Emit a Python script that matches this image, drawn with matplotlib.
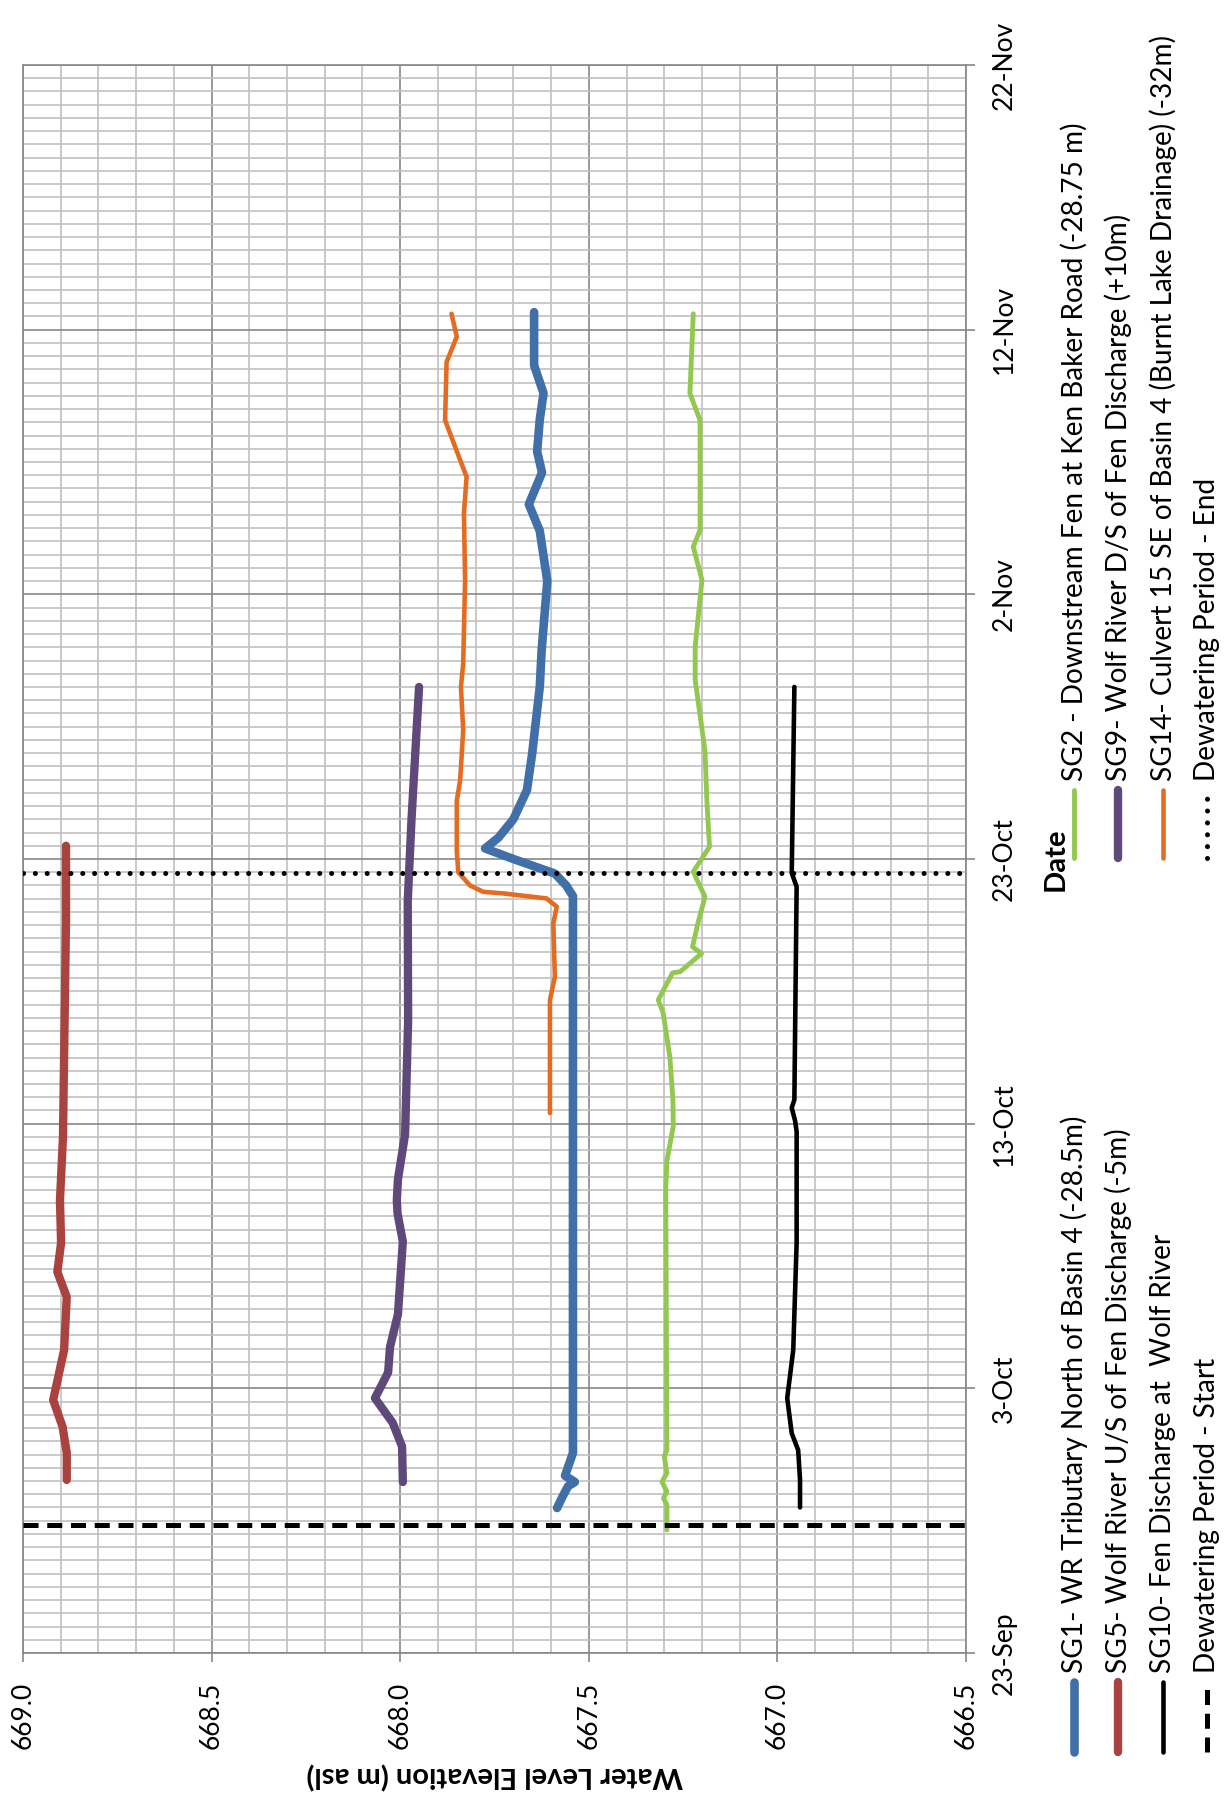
import numpy as np
import matplotlib
matplotlib.use('Agg')
import matplotlib.pyplot as plt
import matplotlib.dates as mdates
from matplotlib.lines import Line2D
from datetime import datetime

plt.rcParams['font.family'] = ['Lato', 'DejaVu Sans']

start = mdates.date2num(datetime(2013, 9, 23))

# days after 23-Sep and water level (m asl) for each staff gauge
sg1_day = [5.48, 5.9, 6.3, 6.46, 6.7, 7.56, 20.9, 28.6, 29.0, 29.45, 30.0, 30.4,
           30.8, 31.5, 32.6, 34.0, 36.5, 37.9, 40.5, 42.4, 43.4, 44.6, 45.4,
           46.6, 47.6, 48.65, 50.66]
sg1_lvl = [667.584, 667.570, 667.555, 667.537, 667.563, 667.542, 667.542, 667.542,
           667.560, 667.590, 667.700, 667.775, 667.740, 667.700, 667.664, 667.650,
           667.630, 667.625, 667.610, 667.630, 667.659, 667.624, 667.637, 667.630,
           667.620, 667.645, 667.645]

sg5_day = [6.54, 7.56, 8.54, 9.56, 11.45, 13.45, 14.4, 15.5, 17.1, 19.5, 27.7, 30.5]
sg5_lvl = [668.884, 668.884, 668.895, 668.920, 668.891, 668.884, 668.909, 668.899,
           668.902, 668.894, 668.886, 668.886]

sg10_day = [5.5, 6.54, 7.67, 8.3, 9.63, 11.45, 15.5, 19.7, 20.1, 20.6, 20.9, 28.95,
            29.47, 36.5]
sg10_lvl = [666.940, 666.940, 666.945, 666.962, 666.974, 666.958, 666.949, 666.949,
            666.953, 666.962, 666.955, 666.949, 666.962, 666.955]

sg2_day = [4.65, 5.6, 5.85, 6.1, 6.47, 6.8, 7.42, 7.67, 17.5, 18.6, 19.9, 20.9, 22.5,
           24.2, 24.67, 25.7, 25.74, 26.43, 26.68, 27.5, 28.57, 29.52, 30.46, 32.2,
           34.1, 36.76, 38.02, 40.54, 41.8, 42.43, 46.58, 47.59, 50.6]
sg2_lvl = [667.293, 667.293, 667.302, 667.293, 667.306, 667.293, 667.300, 667.293,
           667.296, 667.293, 667.276, 667.277, 667.285, 667.303, 667.316, 667.278,
           667.258, 667.201, 667.225, 667.212, 667.192, 667.223, 667.180, 667.187,
           667.192, 667.218, 667.218, 667.200, 667.223, 667.205, 667.205, 667.232,
           667.223]

sg9_day = [6.46, 7.8, 8.7, 9.63, 10.6, 11.56, 12.8, 15.55, 16.6, 17.1, 17.9, 19.6,
           23.9, 28.4, 31.5, 36.5]
sg9_lvl = [667.993, 667.995, 668.020, 668.067, 668.032, 668.027, 668.006, 667.993,
           668.007, 668.009, 668.006, 667.987, 667.979, 667.980, 667.970, 667.950]

sg14_day = [20.4, 24.67, 25.55, 27.57, 28.2, 28.51, 28.7, 28.76, 29.0, 29.5, 30.3,
            32.2, 32.98, 34.87, 36.5, 37.39, 40.54, 43.06, 44.44, 45.07, 46.58,
            48.78, 49.73, 50.6]
sg14_lvl = [667.603, 667.603, 667.590, 667.594, 667.585, 667.612, 667.727, 667.780,
            667.815, 667.846, 667.850, 667.850, 667.841, 667.833, 667.839, 667.833,
            667.828, 667.831, 667.824, 667.841, 667.881, 667.877, 667.850, 667.864]

dewater_start_day = 4.82
dewater_end_day = 29.47

elev_ticks = [669.0, 668.5, 668.0, 667.5, 667.0, 666.5]
date_ticks = [0, 10, 20, 30, 40, 50, 60]

series = [
    ('SG1- WR Tributary North of Basin 4 (-28.5m)', sg1_day, sg1_lvl, '#4170A8', 6.2),
    ('SG2 - Downstream Fen at Ken Baker Road (-28.75 m)', sg2_day, sg2_lvl, '#92C850', 3.5),
    ('SG5- Wolf River U/S of Fen Discharge (-5m)', sg5_day, sg5_lvl, '#A9433F', 6.0),
    ('SG9- Wolf River D/S of Fen Discharge (+10m)', sg9_day, sg9_lvl, '#5F497A', 6.0),
    ('SG10- Fen Discharge at  Wolf River', sg10_day, sg10_lvl, '#000000', 3.3),
    ('SG14- Culvert 15 SE of Basin 4 (Burnt Lake Drainage) (-32m)', sg14_day, sg14_lvl, '#E46C22', 3.3),
]

start_style = dict(color='black', lw=3.6, dashes=(3, 1.75))
end_style = dict(color='black', lw=3.6, dashes=(0.01, 2.36), dash_capstyle='round')

W, H = 1225, 1797
fig = plt.figure(figsize=(W / 100, H / 100), dpi=100)
ax = fig.add_axes([23 / W, 1 - 1653 / H, 943 / W, 1588 / H])

# chart is laid out on its side: level runs across, dates run up
for label, d, l, c, w in series:
    ax.plot(l, start + np.array(d), color=c, lw=w,
            solid_joinstyle='round', solid_capstyle='round', zorder=3)
ax.axhline(start + dewater_start_day, zorder=4, **start_style)
ax.axhline(start + dewater_end_day, zorder=4, **end_style)

ax.set_xlim(669.0, 666.5)
ax.set_ylim(start, start + 60)
ax.set_xticks(elev_ticks)
ax.set_xticks(np.arange(666.5, 669.0, 0.1), minor=True)
ax.set_xticklabels(['%.1f' % v for v in elev_ticks])
ax.set_yticks(start + np.array(date_ticks))
ax.set_yticks(start + np.arange(0, 60, 0.5), minor=True)
ax.yaxis.set_major_formatter(mdates.DateFormatter('%-d-%b'))
ax.yaxis.tick_right()

ax.grid(which='minor', color='#C0C0C0', lw=1.2)
ax.grid(which='major', color='#878787', lw=1.2)
ax.set_axisbelow(True)
for s in ax.spines.values():
    s.set_color('#878787')
    s.set_linewidth(1.2)

ax.tick_params(which='minor', length=0)
ax.tick_params(axis='x', which='major', direction='out', length=6.5, width=1.2,
               color='#878787', labelrotation=90, labelsize=19, pad=14)
ax.tick_params(axis='y', which='major', direction='out', length=6.5, width=1.2,
               color='#878787', labelrotation=90, labelsize=19, pad=12,
               left=False, right=True)
plt.setp(ax.get_yticklabels(), va='center')

ax.set_xlabel('Water Level Elevation (m asl)', fontsize=21, fontweight='bold', rotation=180)
ax.xaxis.set_label_coords(0.5, (1653 - 1775) / 1588)
ax.xaxis.label.set_va('center')
ax.set_ylabel('Date', fontsize=21, fontweight='bold', rotation=90)
ax.yaxis.set_label_position('right')
ax.yaxis.set_label_coords((1056 - 23) / 943, 0.5)
ax.yaxis.label.set_va('center')
ax.yaxis.label.set_ha('center')

# legend, two columns written sideways
def fx(px):
    return px / W

def fy(py):
    return 1 - py / H

def solid(k):
    return dict(color=series[k][3], lw=series[k][4], solid_capstyle='round')

entries = [
    (series[0][0], solid(0)),
    (series[2][0], solid(2)),
    (series[4][0], solid(4)),
    ('Dewatering Period - Start', start_style),
    (series[1][0], solid(1)),
    (series[3][0], solid(3)),
    (series[5][0], solid(5)),
    ('Dewatering Period - End', end_style),
]
rows_x = [1074, 1118, 1163, 1207]
cols = [(1752, 1682, 1673), (858, 790, 781)]
for i, (text, style) in enumerate(entries):
    x = rows_x[i % 4]
    y0, y1, yt = cols[i // 4]
    fig.add_artist(Line2D([fx(x), fx(x)], [fy(y0), fy(y1)],
                          transform=fig.transFigure, **style))
    fig.text(fx(x), fy(yt), text, rotation=90, rotation_mode='anchor',
             ha='left', va='center', fontsize=20.2)

fig.savefig('out.png', dpi=100)
